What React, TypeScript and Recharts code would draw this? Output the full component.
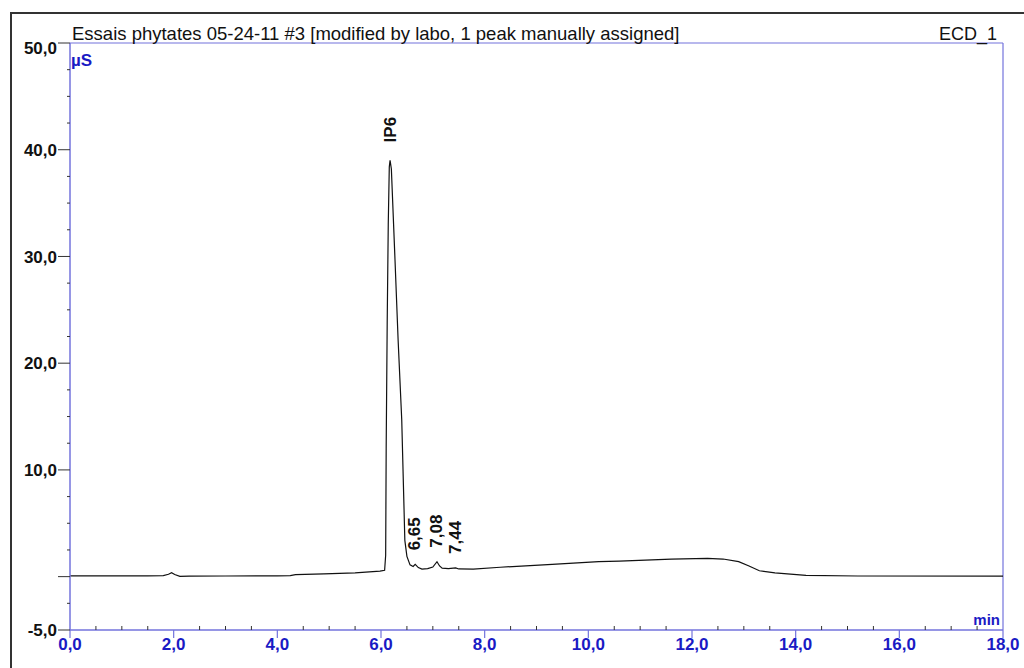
import React from "react";
import { LineChart, Line, XAxis, YAxis, ReferenceLine, ReferenceDot } from "recharts";

const times = [0, 0.5, 1.0, 1.5, 1.8, 1.9, 1.96, 2.02, 2.12, 2.3, 3.0, 4.0, 4.25, 4.35, 4.9, 5.5, 5.98, 6.07, 6.09, 6.10, 6.12, 6.14, 6.16, 6.175, 6.20, 6.27, 6.33, 6.40, 6.46, 6.50, 6.56, 6.62, 6.66, 6.72, 6.79, 6.9, 7.0, 7.08, 7.13, 7.18, 7.30, 7.44, 7.5, 7.78, 8.3, 9.3, 10.2, 10.6, 11.6, 12.3, 12.6, 12.9, 13.1, 13.3, 13.6, 13.9, 14.2, 15.2, 18];
const signal = [0.08, 0.08, 0.08, 0.08, 0.1, 0.22, 0.37, 0.2, 0.02, 0.05, 0.06, 0.08, 0.1, 0.18, 0.25, 0.35, 0.52, 0.6, 2, 12, 24, 33, 38.4, 39.0, 38.2, 29.7, 22.2, 14.7, 3.4, 1.9, 1.1, 0.95, 1.15, 0.85, 0.7, 0.75, 0.9, 1.4, 1.0, 0.8, 0.75, 0.82, 0.72, 0.7, 0.88, 1.15, 1.4, 1.46, 1.65, 1.72, 1.65, 1.4, 1.0, 0.55, 0.35, 0.24, 0.12, 0.06, 0.05];

const peakNames = ["IP6", "6,65", "7,08", "7,44"];
const peakTimes = [6.175, 6.65, 7.08, 7.44];
const peakValues = [39.0, 1.15, 1.4, 0.82];

const xTicks = [0, 0.5, 1, 1.5, 2, 2.5, 3, 3.5, 4, 4.5, 5, 5.5, 6, 6.5, 7, 7.5, 8, 8.5, 9, 9.5, 10, 10.5, 11, 11.5, 12, 12.5, 13, 13.5, 14, 14.5, 15, 15.5, 16, 16.5, 17, 17.5, 18];
const xMajor = [0, 2, 4, 6, 8, 10, 12, 14, 16, 18];
const yTicks = [-5, -2.5, 0, 2.5, 5, 7.5, 10, 12.5, 15, 17.5, 20, 22.5, 25, 27.5, 30, 32.5, 35, 37.5, 40, 42.5, 45, 47.5, 50];
const yMajor = [-5, 0, 10, 20, 30, 40, 50];
const yLabelled = [-5, 10, 20, 30, 40, 50];

const titleText = "Essais phytates 05-24-11 #3 [modified by labo, 1 peak manually assigned]";
const channelText = "ECD_1";
const yUnit = "µS";
const xUnit = "min";

const data = times.map((t, i) => ({ t, v: signal[i] }));

const FONT = "'Liberation Sans', Arial, Helvetica, sans-serif";
const AXIS_BLUE = "#7373dc";
const LABEL_BLUE = "#1a1ac4";
const TICK_DARK = "#333";

const fmt = (v: number) => v.toFixed(1).replace(".", ",");

const XTick = (props: any) => {
  const { x, y, payload } = props;
  const v = payload.value;
  const major = xMajor.includes(v);
  if (!major) {
    return <line x1={x} x2={x} y1={y - 4} y2={y} stroke={TICK_DARK} strokeWidth={1} />;
  }
  return (
    <g>
      <line x1={x} x2={x} y1={y} y2={y + 8} stroke={AXIS_BLUE} strokeWidth={1.2} />
      <text x={x} y={y + 20} textAnchor="middle" fontFamily={FONT} fontSize={17} fontWeight="bold" fill={LABEL_BLUE}>
        {fmt(v)}
      </text>
    </g>
  );
};

const YTick = (props: any) => {
  const { x, y, payload } = props;
  const v = payload.value;
  const major = yMajor.includes(v);
  const len = major ? 12 : 3;
  return (
    <g>
      <line x1={x - len} x2={x} y1={y} y2={y} stroke={TICK_DARK} strokeWidth={1} />
      {yLabelled.includes(v) && (
        <text x={x - 13} y={y + (v === 50 ? 5 : 0)} dy="0.36em" textAnchor="end" fontFamily={FONT} fontSize={17} fontWeight={600} fill="#111">
          {fmt(v)}
        </text>
      )}
    </g>
  );
};

const makePeakShape = (name: string, offset: number) => (props: any) => {
  const { cx, cy } = props;
  const ay = cy - offset;
  return (
    <text
      x={cx}
      y={ay}
      transform={`rotate(-90, ${cx}, ${ay})`}
      textAnchor="start"
      dominantBaseline="central"
      fontFamily={FONT}
      fontSize={17}
      fontWeight="bold"
      fill="#111"
    >
      {name}
    </text>
  );
};

export default function App() {
  return (
    <div style={{ position: "absolute", left: 0, top: 0, width: 1024, height: 668, overflow: "hidden", background: "#fff" }}>
      <div style={{ position: "absolute", left: 10, top: 12, width: 1100, height: 800, border: "2px solid #333", boxSizing: "border-box" }} />
      <div style={{ position: "absolute", left: 0, top: 0 }}>
        <LineChart width={1024} height={668} data={data} margin={{ top: 43, right: 21, bottom: 0, left: 0 }}>
          <XAxis
            dataKey="t"
            type="number"
            domain={[0, 18]}
            ticks={xTicks}
            interval={0}
            tick={XTick}
            tickLine={false}
            tickSize={0}
            tickMargin={0}
            height={38}
            axisLine={{ stroke: AXIS_BLUE, strokeWidth: 1.5 }}
            allowDataOverflow
          />
          <YAxis
            type="number"
            domain={[-5, 50]}
            ticks={yTicks}
            interval={0}
            tick={YTick}
            tickLine={false}
            tickSize={0}
            tickMargin={0}
            width={70}
            axisLine={{ stroke: AXIS_BLUE, strokeWidth: 1.5 }}
            allowDataOverflow
          />
          <ReferenceLine y={50} stroke={AXIS_BLUE} strokeWidth={1.2} />
          <ReferenceLine x={18} stroke={AXIS_BLUE} strokeWidth={1.2} />
          <Line type="linear" dataKey="v" stroke="#111" strokeWidth={1.2} dot={false} isAnimationActive={false} />
          {peakNames.map((n, i) => (
            <ReferenceDot
              key={n}
              x={peakTimes[i]}
              y={peakValues[i]}
              r={0}
              shape={makePeakShape(n, i === 0 ? 18 : 14)}
            />
          ))}
        </LineChart>
      </div>
      <svg width={1024} height={668} style={{ position: "absolute", left: 0, top: 0, pointerEvents: "none" }}>
        <text x={72} y={40} fontFamily={FONT} fontSize={18.5} fill="#111">{titleText}</text>
        <text x={997} y={40} textAnchor="end" fontFamily={FONT} fontSize={18} fill="#111">{channelText}</text>
        <text x={71} y={66} fontFamily={FONT} fontSize={17} fontWeight="bold" fill={LABEL_BLUE}>{yUnit}</text>
        <text x={1000} y={625} textAnchor="end" fontFamily={FONT} fontSize={15} fontWeight="bold" fill={LABEL_BLUE}>{xUnit}</text>
      </svg>
    </div>
  );
}
